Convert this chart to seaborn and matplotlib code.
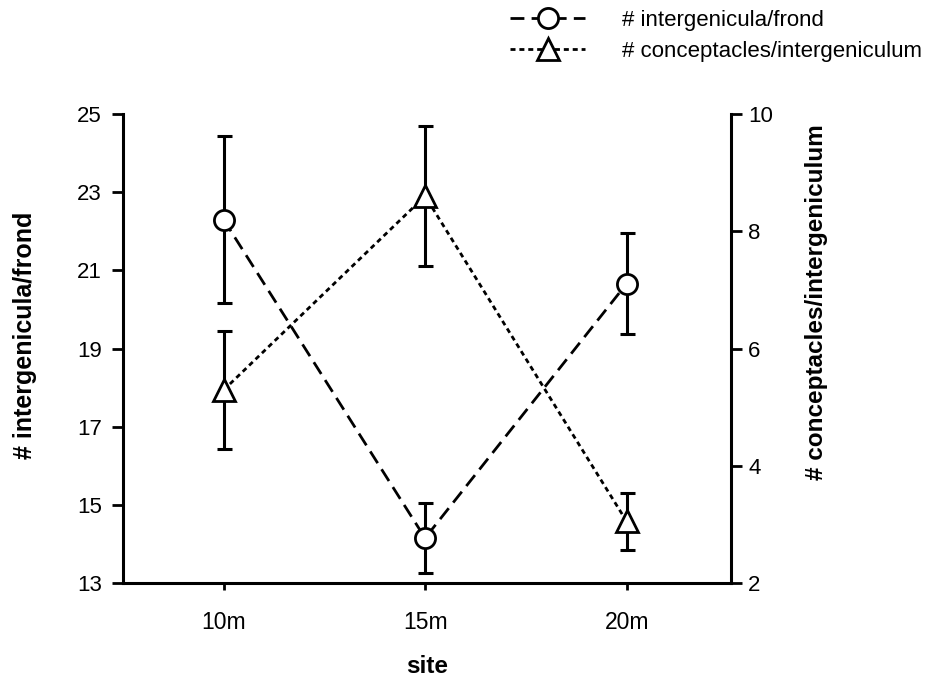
import matplotlib
matplotlib.use('Agg')
import matplotlib.pyplot as plt
import seaborn as sns
import pandas as pd

# values
site = ['10m', '15m', '20m']
intergenicula = [22.3, 14.15, 20.66]
intergenicula_err = [2.14, 0.89, 1.3]
conceptacles = [5.29, 8.6, 3.05]
conceptacles_err = [1.01, 1.2, 0.48]

df = pd.DataFrame({'site': site, 'pos': [0, 1, 2],
                   'inter': intergenicula, 'inter_err': intergenicula_err,
                   'conc': conceptacles, 'conc_err': conceptacles_err})

sns.set_style('ticks', {'axes.edgecolor': 'black', 'text.color': 'black',
                        'xtick.color': 'black', 'ytick.color': 'black',
                        'axes.labelcolor': 'black'})
plt.rcParams['font.family'] = ['Liberation Sans', 'DejaVu Sans']

fig = plt.figure(figsize=(9.39, 6.81), dpi=100)
ax = fig.add_axes([0.1307, 0.1439, 0.6483, 0.6887])
ax2 = ax.twinx()

lw = 2.0
# left axis: intergenicula/frond
ax.errorbar(df['pos'], df['inter'], yerr=df['inter_err'], fmt='none', ecolor='black',
            elinewidth=2.2, capsize=5.4, capthick=2.2, zorder=1)
sns.lineplot(data=df, x='pos', y='inter', ax=ax, color='black', lw=lw,
             linestyle=(0, (5, 2.6)), marker='o', markersize=14.5,
             markerfacecolor='white', markeredgecolor='black', markeredgewidth=2,
             zorder=3, legend=False)

# right axis: conceptacles/intergeniculum
ax2.errorbar(df['pos'], df['conc'], yerr=df['conc_err'], fmt='none', ecolor='black',
             elinewidth=2.2, capsize=5.4, capthick=2.2, zorder=1)
sns.lineplot(data=df, x='pos', y='conc', ax=ax2, color='black', lw=lw,
             linestyle=(0, (1.8, 1.4)), marker='^', markersize=15.5,
             markerfacecolor='white', markeredgecolor='black', markeredgewidth=2,
             zorder=3, legend=False)

ax.set_xlim(-0.5, 2.52)
ax.set_ylim(13, 25)
ax.set_yticks([13, 15, 17, 19, 21, 23, 25])
ax2.set_ylim(2, 10)
ax2.set_yticks([2, 4, 6, 8, 10])
ax.set_xticks([0, 1, 2])
ax.set_xticklabels(site)

for s in ['top', 'right']:
    ax.spines[s].set_visible(False)
for s in ['top', 'left', 'bottom']:
    ax2.spines[s].set_visible(False)
for s in ['left', 'bottom']:
    ax.spines[s].set_linewidth(2.2)
ax2.spines['right'].set_linewidth(2.2)

ax.tick_params(axis='y', length=8, width=2, labelsize=16, pad=7, colors='black')
ax.tick_params(axis='x', length=5, width=2, labelsize=16.5, pad=15, colors='black')
ax2.tick_params(axis='y', length=8, width=2, labelsize=16, pad=4, colors='black')

ax.set_xlabel('site', fontsize=17.5, fontweight='bold', va='center', color='black')
ax.xaxis.set_label_coords(0.5, -0.177)
ax.set_ylabel('# intergenicula/frond', fontsize=18, fontweight='bold', va='center',
              color='black')
ax.yaxis.set_label_coords(-0.160, 0.529)
ax2.set_ylabel('# conceptacles/intergeniculum', fontsize=17.5, fontweight='bold',
               va='center', rotation=90, color='black')
ax2.yaxis.set_label_coords(1.140, 0.599)

handles = [ax.get_lines()[-1], ax2.get_lines()[-1]]
fig.legend(handles=handles, labels=['# intergenicula/frond', '# conceptacles/intergeniculum'],
           loc='upper left', bbox_to_anchor=(0.543, 0.985), frameon=False,
           fontsize=16, handlelength=3.4, handletextpad=1.65, labelspacing=0.42,
           borderpad=0, borderaxespad=0, labelcolor='black')

fig.savefig('out.png', dpi=100)
